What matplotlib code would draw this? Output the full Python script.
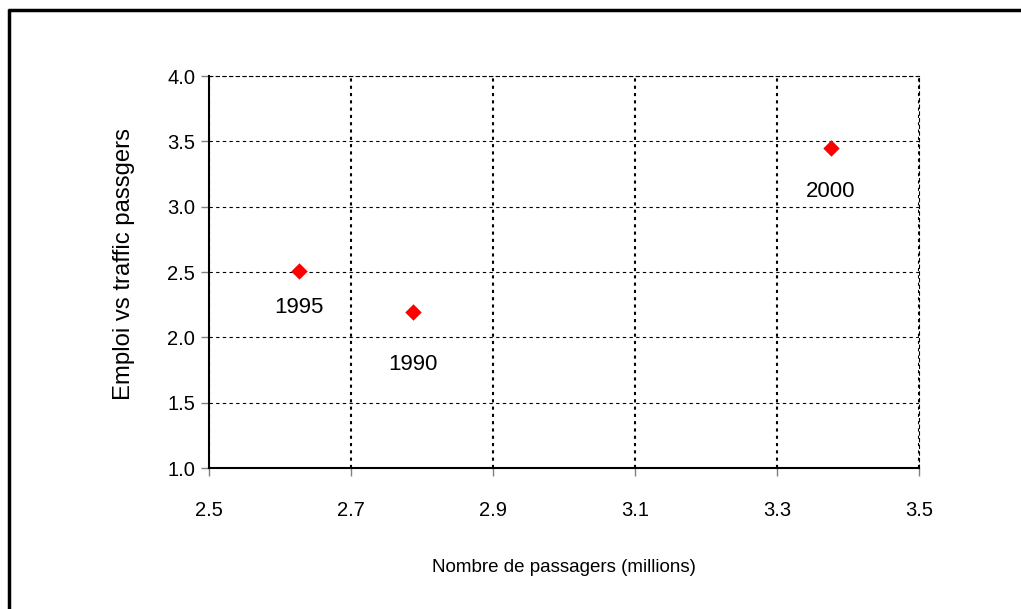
import matplotlib
matplotlib.use("Agg")
import matplotlib.pyplot as plt
from matplotlib.lines import Line2D

# data
years=['1990','1995','2000']
passagers=[2.787,2.627,3.376]
ratio=[2.194,2.508,3.449]
label_offsets=[(0,-38),(0,-26),(0,-31)]

plt.rcParams['font.family']=['Liberation Sans','DejaVu Sans']

fig=plt.figure(figsize=(10.21,6.09),dpi=100)
ax=fig.add_axes([209/1021,1-468/609,710/1021,392/609])

ax.scatter(passagers,ratio,marker='D',s=70,color='#ff0000',zorder=3,linewidths=0)
for x,y,lab,off in zip(passagers,ratio,years,label_offsets):
    ax.annotate(lab,(x,y),xytext=off,textcoords='offset points',ha='center',va='center',fontsize=16)

ax.set_xlim(2.5,3.5)
ax.set_ylim(1.0,4.0)
ax.set_xticks([2.5,2.7,2.9,3.1,3.3,3.5])
ax.set_yticks([1.0,1.5,2.0,2.5,3.0,3.5,4.0])
ax.set_xticklabels(['2.5','2.7','2.9','3.1','3.3','3.5'])
ax.set_yticklabels(['1.0','1.5','2.0','2.5','3.0','3.5','4.0'])
ax.tick_params(axis='both',labelsize=14.5,color='#808080',length=6,width=1)
ax.tick_params(axis='x',pad=18)
ax.tick_params(axis='y',pad=4)

ax.xaxis.grid(True,linestyle=(0,(1.5,2)),color='black',linewidth=1.5)
ax.yaxis.grid(True,linestyle=(0,(3,3)),color='black',linewidth=0.8)
ax.set_axisbelow(True)

for s in ['left','bottom']:
    ax.spines[s].set_linewidth(1.5)
for s in ['top','right']:
    ax.spines[s].set_linestyle((0,(3,3)))
    ax.spines[s].set_linewidth(0.8)

ax.set_xlabel('Nombre de passagers (millions)',fontsize=13.5,labelpad=28)
ax.set_ylabel('Emploi vs traffic passgers',fontsize=17.2)
ax.yaxis.set_label_coords(-0.104,0.52)

# page border (top and left only)
fig.add_artist(Line2D([8/1021,1],[1-10/609,1-10/609],color='black',linewidth=2.5,solid_capstyle='butt',transform=fig.transFigure))
fig.add_artist(Line2D([9/1021,9/1021],[0,1-9/609],color='black',linewidth=2.5,solid_capstyle='butt',transform=fig.transFigure))

fig.savefig('out.png',dpi=100)
